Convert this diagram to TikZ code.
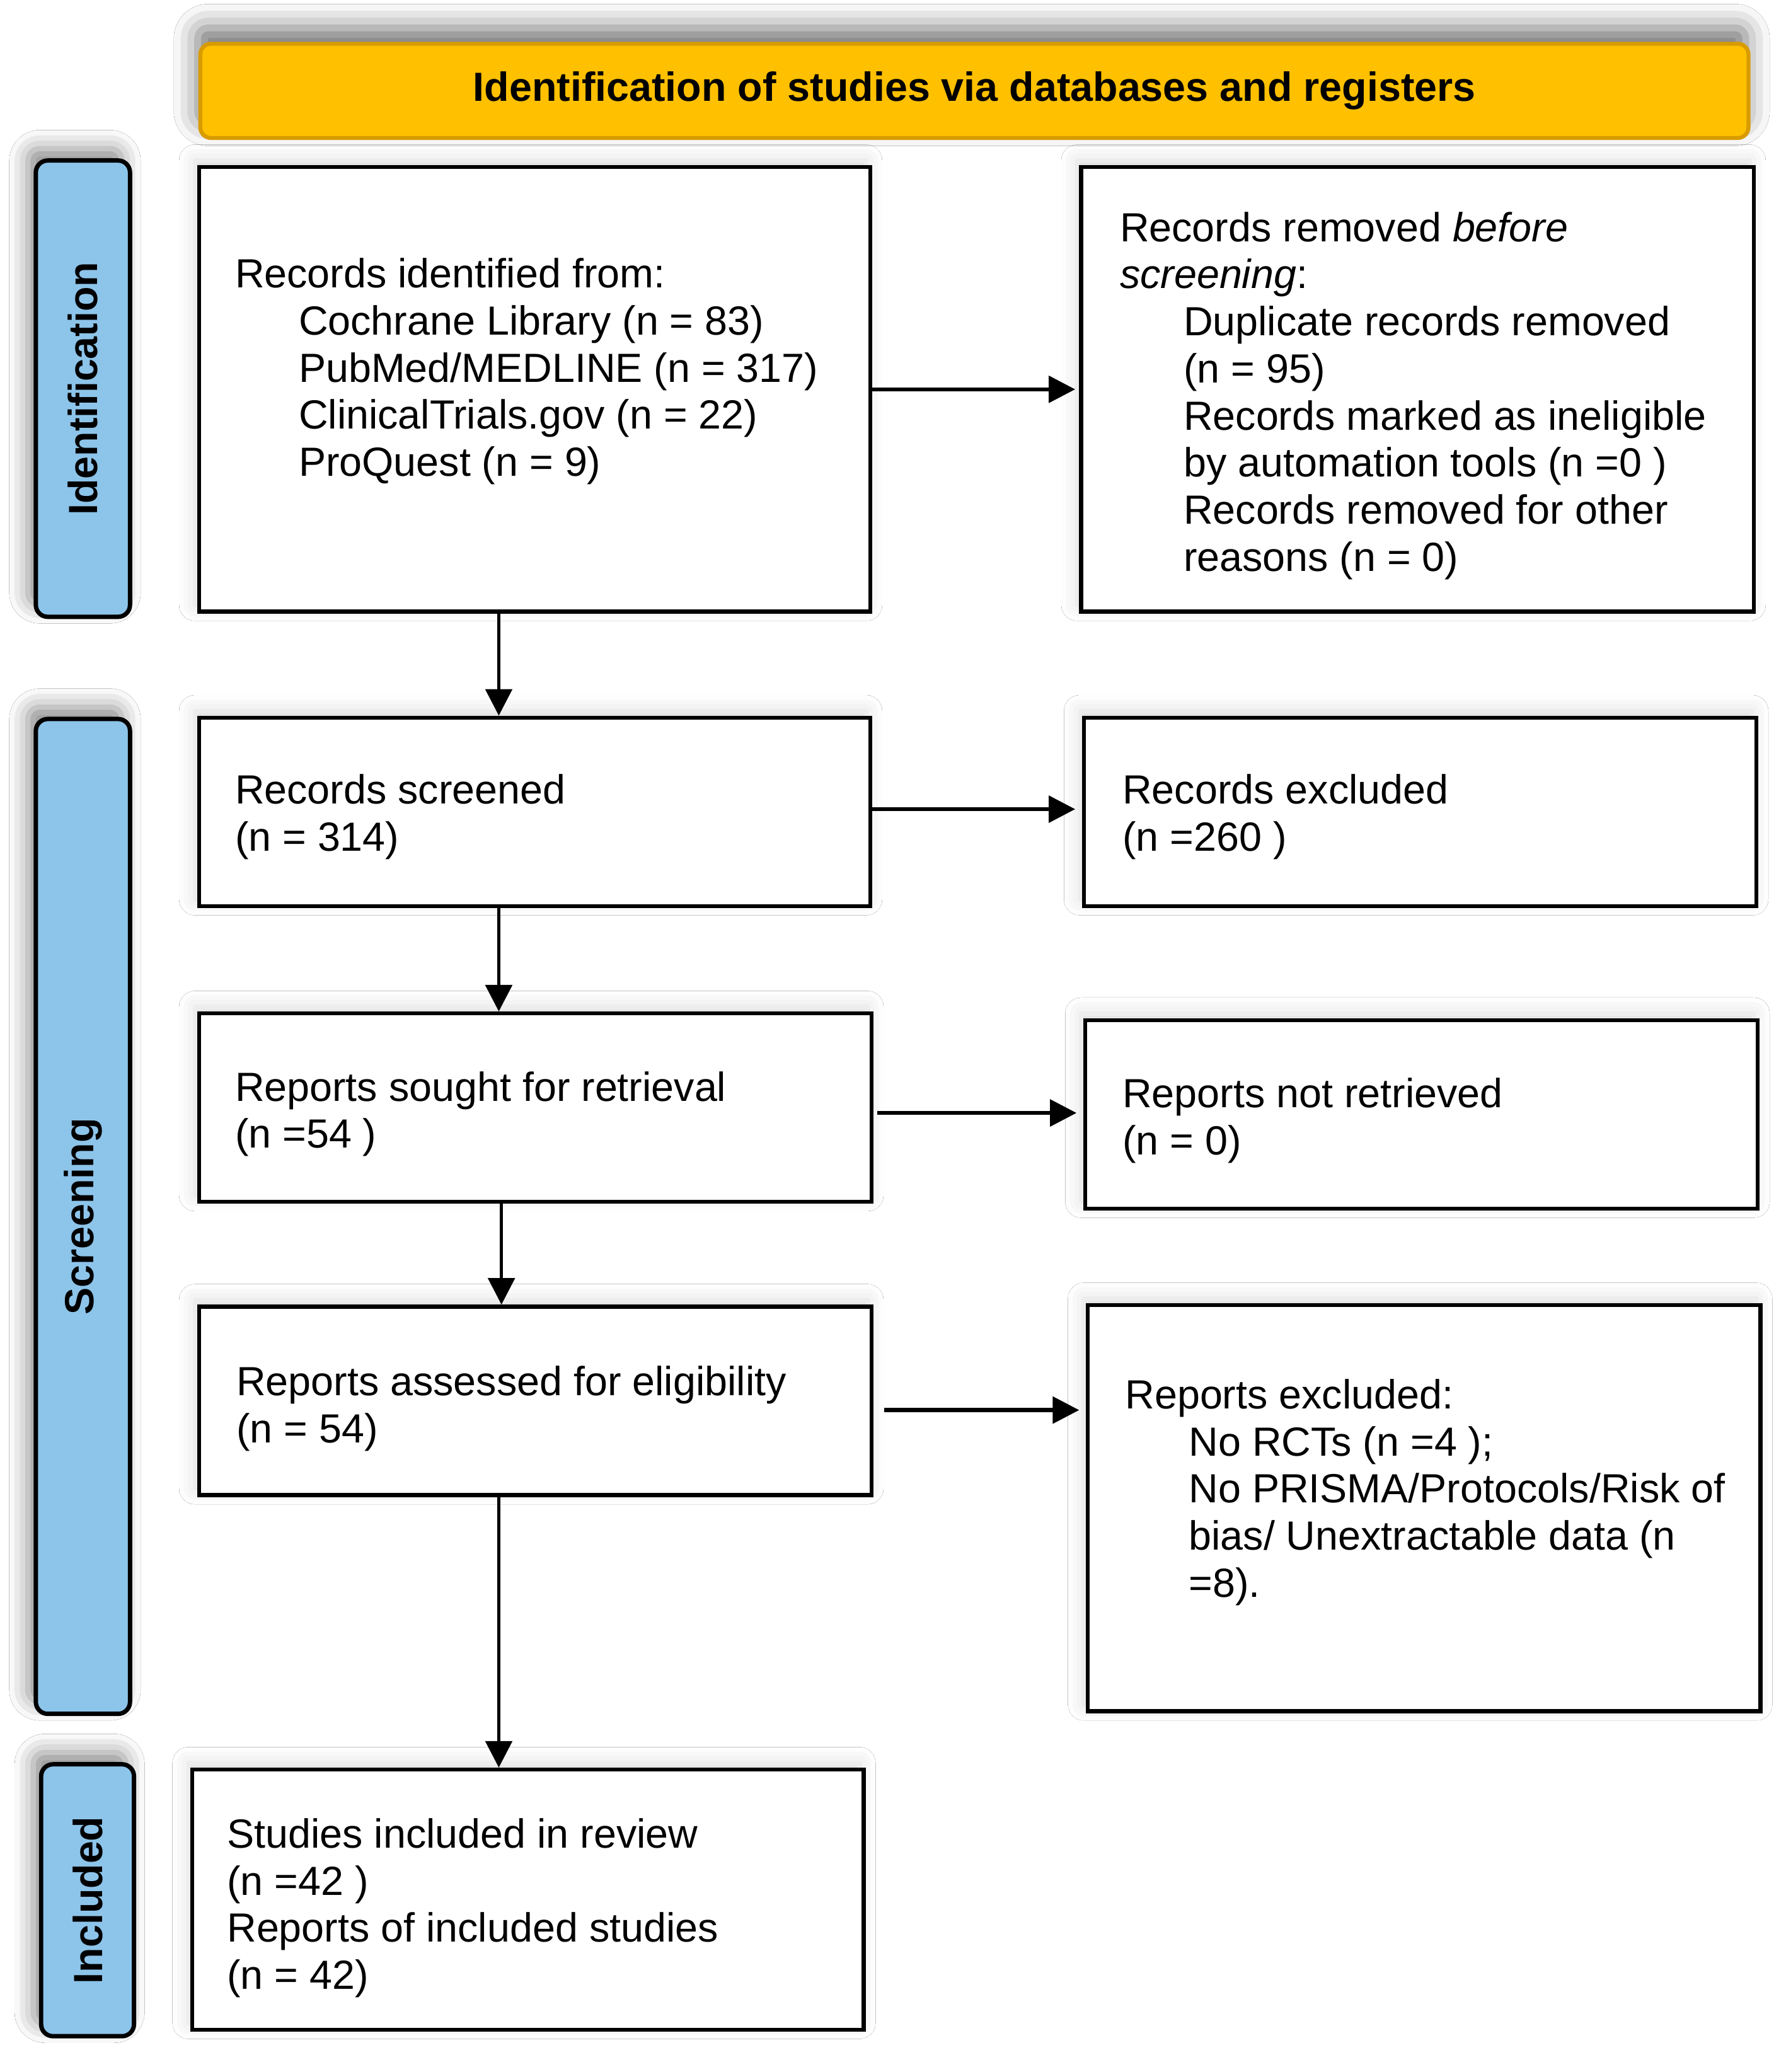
\documentclass[tikz,border=0pt]{standalone}
\usepackage{fontspec}
\setmainfont{Liberation Sans}
\usetikzlibrary{arrows.meta,shadows.blur,calc}
\definecolor{gold}{HTML}{FFC000}
\definecolor{goldedge}{HTML}{D89B00}
\definecolor{phasefill}{HTML}{8DC4EA}
\begin{document}
\begin{tikzpicture}[x=1pt,y=-1pt,
  every node/.style={font=\fontsize{30.7}{35.5}\selectfont},
  box/.style={draw=black, line width=3pt, fill=white, inner sep=0pt,
    blur shadow={shadow xshift=-3pt, shadow yshift=5pt, shadow blur radius=12pt, shadow opacity=14}},
  banner/.style={draw=goldedge, line width=3pt, fill=gold, rounded corners=8pt, inner sep=0pt,
    blur shadow={shadow xshift=-2pt, shadow yshift=12pt, shadow blur radius=18pt, shadow opacity=55}},
  phasebox/.style={draw=black, line width=3.3pt, fill=phasefill, rounded corners=9pt, inner sep=0pt,
    blur shadow={shadow xshift=-6pt, shadow yshift=9pt, shadow blur radius=14pt, shadow opacity=45}},
  phasetext/.style={rotate=90, font=\fontsize{30.7}{35.5}\selectfont\bfseries, inner sep=0pt},
  txt/.style={anchor=base west, inner sep=0pt},
  harrow/.style={line width=3pt, -{Triangle[length=20pt,width=20pt]}},
  varrow/.style={line width=2.6pt, -{Triangle[length=20pt,width=20pt]}}
]
\useasboundingbox (0,0) rectangle (1346,1562);
\fill[white] (0,0) rectangle (1346,1562);

% banner
\node[banner, minimum width=1167pt, minimum height=71pt] (ban) at (734.5,68.5) {};
\node[inner sep=0pt, font=\fontsize{30.7}{35.5}\selectfont\bfseries] (bant) at (ban.center)
  {Identification of studies via databases and registers};

% phase labels
\node[phasebox, minimum width=71pt, minimum height=344pt] (ph1) at (62.5,293) {};
\node[phasetext] (ph1t) at (ph1.center) {Identification};
\node[phasebox, minimum width=71pt, minimum height=750pt] (ph2) at (62.5,917) {};
\node[phasetext] (ph2t) at (ph2.center) {Screening};
\node[phasebox, minimum width=70pt, minimum height=205pt] (ph3) at (66,1432.5) {};
\node[phasetext] (ph3t) at (ph3.center) {Included};

% boxes
\node[box, minimum width=506pt, minimum height=335pt] (b1) at (403,293.5) {};
\node[box, minimum width=507pt, minimum height=335pt] (b2) at (1068.5,293.5) {};
\node[box, minimum width=506pt, minimum height=142pt] (b3) at (403,612) {};
\node[box, minimum width=507pt, minimum height=142pt] (b4) at (1070.5,612) {};
\node[box, minimum width=507pt, minimum height=142pt] (b5) at (403.5,835) {};
\node[box, minimum width=507pt, minimum height=142pt] (b6) at (1071.5,840) {};
\node[box, minimum width=507pt, minimum height=142pt] (b7) at (403.5,1056) {};
\node[box, minimum width=507pt, minimum height=306pt] (b8) at (1073.5,1137) {};
\node[box, minimum width=506pt, minimum height=196pt] (b9) at (398,1432) {};

% box texts, one node per line (y = baseline)
\node[txt] (t1a) at (177,217) {Records identified from:};
\node[txt] (t1b) at (225,252.5) {Cochrane Library (n = 83)};
\node[txt] (t1c) at (225,288) {PubMed/MEDLINE (n = 317)};
\node[txt] (t1d) at (225,323.5) {ClinicalTrials.gov (n = 22)};
\node[txt] (t1e) at (225,359) {ProQuest (n = 9)};

\node[txt] (t2a) at (844,182) {Records removed \textit{before}};
\node[txt] (t2b) at (844,217.5) {\textit{screening}:};
\node[txt] (t2c) at (892,253) {Duplicate records removed};
\node[txt] (t2d) at (892,288.5) {(n = 95)};
\node[txt] (t2e) at (892,324) {Records marked as ineligible};
\node[txt] (t2f) at (892,359.5) {by automation tools (n =0 )};
\node[txt] (t2g) at (892,395) {Records removed for other};
\node[txt] (t2h) at (892,430.5) {reasons (n = 0)};

\node[txt] (t3a) at (177,606) {Records screened};
\node[txt] (t3b) at (177,641.5) {(n = 314)};
\node[txt] (t4a) at (846,606) {Records excluded};
\node[txt] (t4b) at (846,641.5) {(n =260 )};
\node[txt] (t5a) at (177,830) {Reports sought for retrieval};
\node[txt] (t5b) at (177,865.5) {(n =54 )};
\node[txt] (t6a) at (846,835) {Reports not retrieved};
\node[txt] (t6b) at (846,870.5) {(n = 0)};
\node[txt] (t7a) at (178,1052) {Reports assessed for eligibility};
\node[txt] (t7b) at (178,1087.5) {(n = 54)};

\node[txt] (t8a) at (848,1062) {Reports excluded:};
\node[txt] (t8b) at (896,1097.5) {No RCTs (n =4 );};
\node[txt] (t8c) at (896,1133) {No PRISMA/Protocols/Risk of};
\node[txt] (t8d) at (896,1168.5) {bias/ Unextractable data (n};
\node[txt] (t8e) at (896,1204) {=8).};

\node[txt] (t9a) at (171,1393) {Studies included in review};
\node[txt] (t9b) at (171,1428.5) {(n =42 )};
\node[txt] (t9c) at (171,1464) {Reports of included studies};
\node[txt] (t9d) at (171,1499.5) {(n = 42)};

% connectors
\coordinate (colA) at (376,0);
\coordinate (colB) at (378,0);
\draw[varrow] (b1.south -| colA) -- (b3.north -| colA);
\draw[varrow] (b3.south -| colA) -- (b5.north -| colA);
\draw[varrow] (b5.south -| colB) -- (b7.north -| colB);
\draw[varrow] (b7.south -| colA) -- (b9.north -| colA);

\draw[harrow] (b1.east) -- ([xshift=-3pt]b1.east -| b2.west);
\draw[harrow] ([yshift=2pt]b3.east) -- ([xshift=-5pt,yshift=2pt]b3.east -| b4.west);
\draw[harrow] ([xshift=3pt,yshift=-4pt]b5.east) -- ([xshift=-5pt,yshift=-4pt]b5.east -| b6.west);
\draw[harrow] ([xshift=8pt,yshift=-7pt]b7.east) -- ([xshift=-5pt,yshift=-7pt]b7.east -| b8.west);
\end{tikzpicture}
\end{document}
